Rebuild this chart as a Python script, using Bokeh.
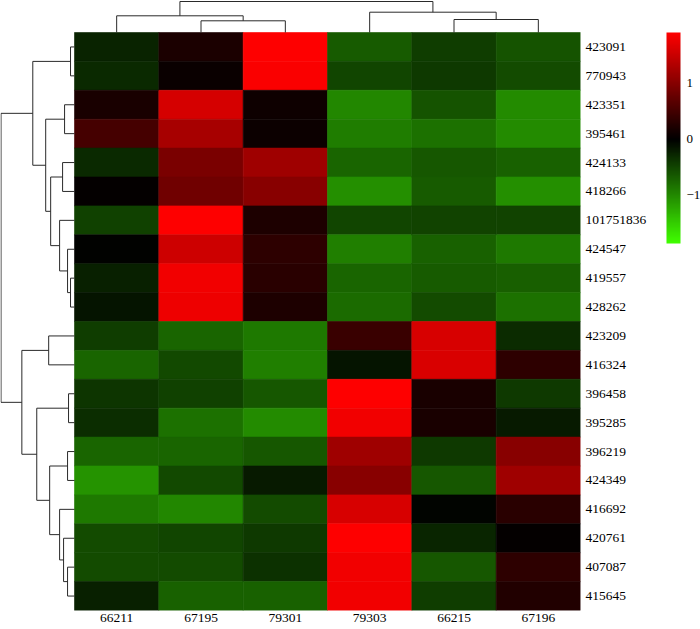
from bokeh.plotting import figure
from bokeh.models import (LinearColorMapper, ColorBar, FixedTicker, Range1d,
                          ColumnDataSource)
from bokeh.transform import transform
from bokeh.embed import file_html
from bokeh.resources import INLINE

# ---------------- data ----------------
samples = ["66211", "67195", "79301", "79303", "66215", "67196"]
genes = ["423091", "770943", "423351", "395461", "424133", "418266",
         "101751836", "424547", "419557", "428262", "423209", "416324",
         "396458", "395285", "396219", "424349", "416692", "420761",
         "407087", "415645"]

# row-scaled expression (one list per sample column, genes top -> bottom)
s66211 = [-0.25, -0.29, 0.19, 0.51, -0.29, 0.03, -0.47, -0.02, -0.23, -0.15,
          -0.44, -0.73, -0.38, -0.32, -0.73, -1.08, -0.88, -0.54, -0.54, -0.23]
s67195 = [0.21, 0.07, 1.58, 1.25, 0.91, 0.83, 1.90, 1.52, 1.80, 1.78,
          -0.73, -0.53, -0.47, -0.83, -0.73, -0.53, -0.99, -0.50, -0.55, -0.70]
s79301 = [1.90, 1.86, 0.10, 0.09, 1.19, 1.01, 0.22, 0.33, 0.30, 0.22,
          -0.88, -0.93, -0.64, -1.02, -0.64, -0.20, -0.55, -0.41, -0.35, -0.70]
s79303 = [-0.67, -0.50, -0.99, -0.92, -0.73, -1.05, -0.50, -0.93, -0.74, -0.78,
          0.43, -0.15, 1.90, 1.80, 1.19, 1.01, 1.60, 1.90, 1.80, 1.80]
s66215 = [-0.44, -0.42, -0.60, -0.82, -0.64, -0.66, -0.49, -0.70, -0.66, -0.55,
          1.60, 1.61, 0.19, 0.19, -0.41, -0.64, -0.03, -0.26, -0.64, -0.44]
s67196 = [-0.60, -0.54, -1.02, -1.02, -0.70, -1.05, -0.49, -0.88, -0.69, -0.82,
          -0.31, 0.33, -0.42, -0.20, 1.01, 1.19, 0.31, 0.02, 0.33, 0.25]
sample_values = [s66211, s67195, s79301, s79303, s66215, s67196]

# row dendrogram: leaves 0..19 (display order), merged nodes numbered 20..
row_left = [0, 2, 4, 8, 7, 6, 22, 21, 20, 10, 12, 14, 18, 17, 16, 31, 30, 29, 28]
row_right = [1, 3, 5, 9, 23, 24, 25, 26, 27, 11, 13, 15, 19, 32, 33, 34, 35, 36, 37]
row_height = [4, 10, 12, 4, 7, 15, 24, 29, 42, 26, 6, 7, 7, 11, 15, 25, 38, 53, 74]

# column dendrogram: leaves 0..5, merged nodes numbered 6..
col_left = [1, 0, 4, 3, 7]
col_right = [2, 6, 5, 8, 9]
col_height = [11.7, 16.7, 13, 20.3, 31]

# colour scale
scale_low, scale_high = -1.86, 1.90
color_low, color_mid, color_high = "#40FF00", "#000000", "#FF0000"
bar_ticks = [-1, 0, 1]
bar_labels = ["\u22121", "0", "1"]

# ---------------- helpers ----------------
def hex_rgb(h):
    return tuple(int(h[i:i + 2], 16) for i in (1, 3, 5))

lo_rgb, mid_rgb, hi_rgb = hex_rgb(color_low), hex_rgb(color_mid), hex_rgb(color_high)
palette = []
n = 256
for i in range(n):
    v = scale_low + (i + 0.5) / n * (scale_high - scale_low)
    if v < 0:
        t = min(1.0, -v / -scale_low)
        c = [m + (l - m) * t for l, m in zip(lo_rgb, mid_rgb)]
    else:
        t = min(1.0, v / scale_high)
        c = [m + (h - m) * t for h, m in zip(hi_rgb, mid_rgb)]
    palette.append("#%02x%02x%02x" % tuple(int(round(x)) for x in c))

mapper = LinearColorMapper(palette=palette, low=scale_low, high=scale_high)

nrow, ncol = len(genes), len(samples)
xs, ys, zs = [], [], []
for j, col in enumerate(sample_values):
    for i, val in enumerate(col):
        xs.append(j)
        ys.append(nrow - 1 - i)
        zs.append(val)
src = ColumnDataSource(dict(x=xs, y=ys, z=zs))

# geometry (pixels): heatmap 74..580 x 32..610
left_px, top_px = 74.0, 32.0
frame_w, frame_h = 580, 610
cell_w = (frame_w - left_px) / ncol
cell_h = (frame_h - top_px) / nrow
x_start = (ncol - 0.5) - frame_w / cell_w
y_end = (nrow - 0.5) + top_px / cell_h

p = figure(frame_width=frame_w, frame_height=frame_h,
           x_range=Range1d(x_start, ncol - 0.5), y_range=Range1d(-0.5, y_end),
           output_backend="svg", toolbar_location=None,
           y_axis_location="right", x_axis_location="below",
           min_border_left=0, min_border_top=0, min_border_bottom=0,
           min_border_right=120, outline_line_color=None,
           background_fill_color="white", border_fill_color="white")
p.grid.visible = False

p.rect(x="x", y="y", width=1, height=1, source=src,
       fill_color=transform("z", mapper), line_color=transform("z", mapper),
       line_width=0.6)

# ---- row dendrogram (left) ----
row_pos = {i: float(nrow - 1 - i) for i in range(nrow)}
row_h = {i: 0.0 for i in range(nrow)}
sx = ((left_px - 0.5) / cell_w) / max(row_height)
dxs, dys = [], []
for k, (a, b, h) in enumerate(zip(row_left, row_right, row_height)):
    node = nrow + k
    pa, pb = row_pos[a], row_pos[b]
    ha, hb = row_h[a], row_h[b]
    X = lambda hh: -0.5 - hh * sx
    dxs.append([X(ha), X(h), X(h), X(hb)])
    dys.append([pa, pa, pb, pb])
    row_pos[node] = (pa + pb) / 2
    row_h[node] = h

# ---- column dendrogram (top) ----
col_pos = {j: float(j) for j in range(ncol)}
col_h = {j: 0.0 for j in range(ncol)}
sy = ((top_px - 1.0) / cell_h) / max(col_height)
for k, (a, b, h) in enumerate(zip(col_left, col_right, col_height)):
    node = ncol + k
    pa, pb = col_pos[a], col_pos[b]
    ha, hb = col_h[a], col_h[b]
    Y = lambda hh: (nrow - 0.5) + hh * sy
    dxs.append([pa, pa, pb, pb])
    dys.append([Y(ha), Y(h), Y(h), Y(hb)])
    col_pos[node] = (pa + pb) / 2
    col_h[node] = h

p.multi_line(xs=dxs, ys=dys, line_color="#2a2a2a", line_width=1)

font = "Liberation Serif"
# right axis: gene ids
ya = p.yaxis[0]
ya.ticker = FixedTicker(ticks=list(range(nrow)))
ya.major_label_overrides = {nrow - 1 - i: g for i, g in enumerate(genes)}
ya.axis_line_color = None
ya.major_tick_line_color = None
ya.minor_tick_line_color = None
ya.major_tick_out = 0
ya.major_tick_in = 0
ya.major_label_standoff = 5
ya.major_label_text_font = font
ya.major_label_text_font_size = "13.5px"
ya.major_label_text_color = "black"

# bottom axis: sample ids
xa = p.xaxis[0]
xa.ticker = FixedTicker(ticks=list(range(ncol)))
xa.major_label_overrides = {j: s for j, s in enumerate(samples)}
xa.axis_line_color = None
xa.major_tick_line_color = None
xa.minor_tick_line_color = None
xa.major_tick_out = 0
xa.major_tick_in = 0
xa.major_label_standoff = 3
xa.major_label_text_font = font
xa.major_label_text_font_size = "13.5px"
xa.major_label_text_color = "black"

cb = ColorBar(color_mapper=mapper, width=14, height=211,
              location=(17, 367), padding=0, margin=0,
              ticker=FixedTicker(ticks=bar_ticks),
              major_label_overrides={t: l for t, l in zip(bar_ticks, bar_labels)},
              major_tick_line_color=None, bar_line_color=None,
              border_line_color=None, background_fill_color=None,
              label_standoff=6, major_label_text_font=font,
              major_label_text_font_size="13px",
              major_label_text_color="black")
p.add_layout(cb, "right")

open("out.html", "w").write(file_html(p, INLINE))
